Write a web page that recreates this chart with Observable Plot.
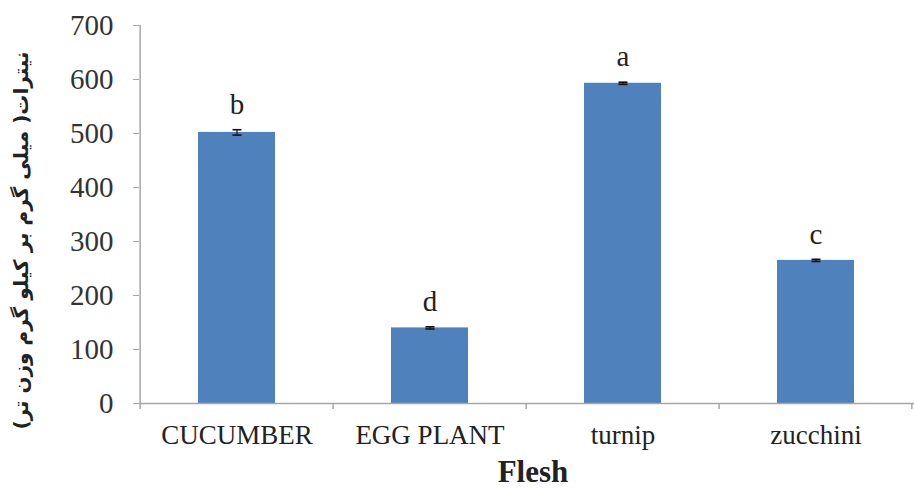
<!DOCTYPE html>
<html>
<head>
<meta charset="utf-8">
<script src="https://cdn.jsdelivr.net/npm/d3@7"></script>
<script src="https://cdn.jsdelivr.net/npm/@observablehq/plot@0.6"></script>
<style>
  html, body { margin: 0; padding: 0; background: #fff; }
  svg { display: block; }
</style>
</head>
<body>
<div id="chart"></div>
<script>
const categories = ["CUCUMBER", "EGG PLANT", "turnip", "zucchini"];
const values = [502, 140, 593, 265];
const errors = [5, 2, 2, 2];
const letters = ["b", "d", "a", "c"];
const yTicks = [0, 100, 200, 300, 400, 500, 600, 700];
const yLabel = "نیترات( میلی گرم بر کیلو گرم وزن تر)";
const xLabel = "Flesh";

const data = categories.map((c, i) => ({cat: c, v: values[i], e: errors[i], l: letters[i]}));

const W = 914, H = 488, ML = 139, MR = 0, MT = 25, MB = 85;
const step = (W - ML - MR) / categories.length;
const axisColor = "#a6a6a6";
const serif = "'Liberation Serif', 'DejaVu Serif', serif";
const arabicFont = "'DejaVu Sans', sans-serif";

// horizontal cap symbol for error bars
const capSymbol = {
  draw(context, size) {
    const w = 4.5;
    context.moveTo(-w, 0);
    context.lineTo(w, 0);
  }
};

const chart = Plot.plot({
  width: W, height: H,
  marginLeft: ML, marginRight: MR, marginTop: MT, marginBottom: MB,
  style: {background: "#fff", color: "#222"},
  x: {domain: categories, paddingInner: 0.6, paddingOuter: 0.3, label: null},
  y: {domain: [0, 700], label: null},
  marks: [
    Plot.barY(data, {x: "cat", y: "v", fill: "#4f81bd"}),
    // error bars
    Plot.ruleX(data, {x: "cat", y1: d => d.v - d.e, y2: d => d.v + d.e, stroke: "#111", strokeWidth: 1.2}),
    Plot.dot(data, {x: "cat", y: d => d.v + d.e, symbol: capSymbol, fill: "none", stroke: "#111", strokeWidth: 1.6}),
    Plot.dot(data, {x: "cat", y: d => d.v - d.e, symbol: capSymbol, fill: "none", stroke: "#111", strokeWidth: 1.6}),
    // significance letters
    Plot.text(data, {x: "cat", y: d => d.v + d.e, text: "l", dy: -25, fontSize: 29, fill: "#222"}),
    // axes lines
    Plot.ruleY([0], {stroke: axisColor, strokeWidth: 1.5}),
    Plot.ruleX([categories[0]], {x: d => d, dx: -step / 2, y1: 0, y2: 700, stroke: axisColor, strokeWidth: 1.5}),
    // x category boundary ticks
    Plot.ruleX(categories, {x: d => d, dx: -step / 2, y1: 0, y2: -11, stroke: axisColor, strokeWidth: 1.5}),
    Plot.ruleX([categories[categories.length - 1]], {x: d => d, dx: step / 2 - 1, y1: 0, y2: -11, stroke: axisColor, strokeWidth: 1.5}),
    Plot.axisY({ticks: yTicks, tickSize: 6, tickPadding: 20, stroke: axisColor, fontSize: 29, fill: "#333", label: null}),
    Plot.axisX({tickSize: 0, tickPadding: 21, fontSize: 27, fill: "#222", label: null}),
    // axis titles
    Plot.text([xLabel], {frameAnchor: "bottom", text: d => d, dx: 6, dy: 78, fontSize: 31, fontWeight: "bold", fill: "#222"}),
    Plot.text([yLabel], {frameAnchor: "left", textAnchor: "middle", text: d => d, dx: -118, dy: 26, rotate: -90, fontSize: 20, fontWeight: "bold", fill: "#222"})
  ]
});

// apply fonts directly on text elements
d3.select(chart).selectAll("text").each(function () {
  const isArabic = /[\u0600-\u06FF]/.test(this.textContent);
  const f = isArabic ? arabicFont : serif;
  this.setAttribute("font-family", f);
  this.style.fontFamily = f;
});

document.getElementById("chart").appendChild(chart);
</script>
</body>
</html>
